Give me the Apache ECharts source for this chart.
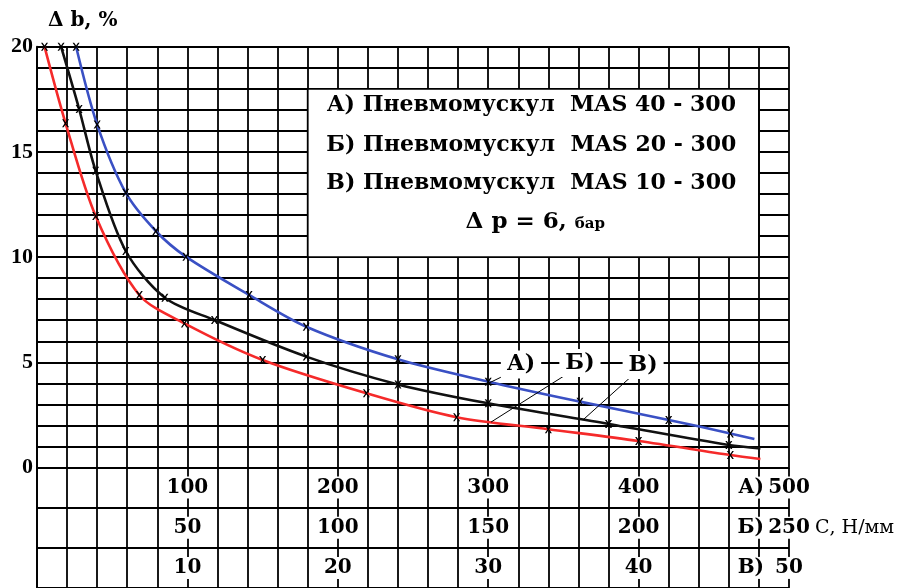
<!DOCTYPE html>
<html><head><meta charset="utf-8">
<script src="https://cdn.jsdelivr.net/npm/echarts@6/dist/echarts.min.js"></script>
<style>html,body{margin:0;padding:0;background:#fff}#c{width:914px;height:588px}</style>
</head><body><div id="c"></div>
<script>
// ---- data ----
const blueX  = [26, 40, 59, 79, 99, 141, 179, 240, 300, 361, 420, 461, 477];
const blueY  = [20, 16.3, 13.06, 11.24, 10.02, 8.2, 6.69, 5.14, 4.08, 3.13, 2.26, 1.62, 1.35];
const blackX = [16, 28, 39, 59, 85, 118, 179, 240, 300, 380, 460, 481];
const blackY = [20, 17.04, 14.1, 10.29, 8.07, 7.01, 5.27, 3.95, 3.05, 2.07, 1.07, 0.91];
const redX   = [5, 19, 39, 68, 98, 150, 219, 279, 340, 400, 461, 481];
const redY   = [20, 16.36, 11.95, 8.2, 6.85, 5.11, 3.53, 2.39, 1.82, 1.26, 0.59, 0.4];
const yLabelStep = 5;
const tickPos = [100, 200, 300, 400, 500];
const scaleA = [100, 200, 300, 400, 500];
const scaleB = [50, 100, 150, 200, 250];
const scaleC = [10, 20, 30, 40, 50];
const rowPrefix = ['А)', 'Б)', 'В)'];
const unitText = 'С, Н/мм';
const legendLines = ['А) Пневмомускул  MAS 40 - 300', 'Б) Пневмомускул  MAS 20 - 300', 'В) Пневмомускул  MAS 10 - 300'];
const yTitle = 'Δ b, %';
const curveTags = ['А)', 'Б)', 'В)'];

const SERIF = 'DejaVu Serif';
const TIMES = 'Liberation Serif';
const GC = '#000';
const GW = 1.8;
const XSYM = 'path://M0,0L2.2,0L5,3.6L7.8,0L10,0L6.2,5L10,10L7.8,10L5,6.4L2.2,10L0,10L3.8,5Z';

function pts(xs, ys) {
  return xs.map((x, i) => ({ value: [x, ys[i]], symbol: i === xs.length - 1 ? 'none' : XSYM }));
}
function curve(name, xs, ys, color) {
  return {
    name, type: 'line', xAxisIndex: 0, yAxisIndex: 0, data: pts(xs, ys),
    smooth: 0.3, symbolSize: [7, 8],
    lineStyle: { color, width: 2.6 }, itemStyle: { color: '#000' }, z: 5, animation: false
  };
}
function rowLabels(vals, row) {
  return vals.map((v, i) => [tickPos[i], row + 0.5, v]);
}

const chart = echarts.init(document.getElementById('c'), null, { renderer: 'canvas' });
const splitStyle = { show: true, lineStyle: { color: GC, width: GW } };
const option = {
  animation: false,
  backgroundColor: '#fff',
  grid: [
    { left: 37, top: 46.7, width: 752, height: 420.8, containLabel: false },
    { left: 37, top: 467.5, width: 752, height: 121.5, containLabel: false }
  ],
  xAxis: [
    { gridIndex: 0, type: 'value', min: 0, max: 500, interval: 20,
      axisLine: { show: true, lineStyle: { color: GC, width: GW } }, axisTick: { show: false },
      axisLabel: { show: false }, splitLine: splitStyle },
    { gridIndex: 1, type: 'value', min: 0, max: 500, interval: 20,
      axisLine: { show: false }, axisTick: { show: false },
      axisLabel: { show: false }, splitLine: splitStyle }
  ],
  yAxis: [
    { gridIndex: 0, type: 'value', min: 0, max: 20, interval: 1,
      axisLine: { show: true, lineStyle: { color: GC, width: GW } }, axisTick: { show: false },
      axisLabel: { formatter: v => (v % yLabelStep === 0 ? String(v) : ''), fontFamily: TIMES,
        fontWeight: 'bold', fontSize: 22, color: '#000', margin: 4 },
      splitLine: splitStyle },
    { gridIndex: 1, type: 'value', min: 0, max: 3, interval: 1, inverse: true,
      axisLine: { show: true, lineStyle: { color: GC, width: GW } }, axisTick: { show: false },
      axisLabel: { show: false }, splitLine: splitStyle }
  ],
  series: [
    curve('А', blueX, blueY, '#3a50c4'),
    curve('В', blackX, blackY, '#111'),
    curve('Б', redX, redY, '#f52a2a'),
    {
      type: 'scatter', xAxisIndex: 1, yAxisIndex: 1, symbolSize: 1,
      itemStyle: { color: '#fff', opacity: 1 }, z: 6, silent: true,
      data: [].concat(rowLabels(scaleA, 0), rowLabels(scaleB, 1), rowLabels(scaleC, 2)),
      label: { show: true, position: 'inside', formatter: p => String(p.value[2]),
        fontFamily: SERIF, fontWeight: 'bold', fontSize: 20, color: '#000', opacity: 1,
        textBorderWidth: 0, backgroundColor: '#fff', padding: [1, 2] }
    }
  ]
};
chart.setOption(option);

const P = (x, y) => chart.convertToPixel({ gridIndex: 0 }, [x, y]);
const Q = (x, y) => chart.convertToPixel({ gridIndex: 1 }, [x, y]);
const g = [];
// title
g.push({ type: 'text', x: 48, y: 21, z: 20, style: { text: yTitle, font: 'bold 20px "DejaVu Serif"', fill: '#000', textVerticalAlign: 'middle' } });
// legend box
const b1 = P(180, 18), b2 = P(480, 10);
g.push({ type: 'rect', z: 10, shape: { x: b1[0], y: b1[1], width: b2[0] - b1[0], height: b2[1] - b1[1] },
  style: { fill: '#fff', stroke: GC, lineWidth: GW } });
const cx = (b1[0] + b2[0]) / 2;
const lineY = [17.2, 15.3, 13.5, 11.65];
legendLines.forEach((t, i) => {
  g.push({ type: 'text', z: 11, x: cx - 2, y: P(0, lineY[i])[1],
    style: { text: t, font: 'bold 22px "DejaVu Serif"', fill: '#000', textAlign: 'center', textVerticalAlign: 'middle' } });
});
g.push({ type: 'text', z: 11, x: cx + 2, y: P(0, lineY[3])[1],
  style: { text: '{a|Δ p = 6, }{b|бар}', textAlign: 'center', textVerticalAlign: 'middle',
    rich: { a: { font: 'bold 23px "DejaVu Serif"', fill: '#000', verticalAlign: 'bottom' },
            b: { font: 'bold 15px "DejaVu Serif"', fill: '#000', verticalAlign: 'bottom', padding: [0, 0, 2, 0] } } } });
// curve tags with leader lines
const tagPos = [[321.8, 4.9], [361, 4.97], [403, 4.87]];
const leaders = [[[319.4, 4.67], [300.1, 4.0]], [[355.7, 4.59], [301.9, 2.16]], [[396.3, 4.4], [363, 2.26]]];
leaders.forEach(l => {
  const a = P(l[0][0], l[0][1]), c = P(l[1][0], l[1][1]);
  g.push({ type: 'line', z: 12, shape: { x1: a[0], y1: a[1], x2: c[0], y2: c[1] }, style: { stroke: '#000', lineWidth: 1 } });
});
curveTags.forEach((t, i) => {
  const p = P(tagPos[i][0], tagPos[i][1]);
  g.push({ type: 'text', z: 13, x: p[0], y: p[1],
    style: { text: t, font: 'bold 22px "DejaVu Serif"', fill: '#000', textAlign: 'center', textVerticalAlign: 'middle',
      backgroundColor: '#fff', padding: [3, 6] } });
});
// row prefixes and unit
rowPrefix.forEach((t, i) => {
  const p = Q(500, i + 0.5);
  g.push({ type: 'text', z: 13, x: p[0] - 24, y: p[1],
    style: { text: t, font: 'bold 20px "DejaVu Serif"', fill: '#000', textAlign: 'right', textVerticalAlign: 'middle',
      backgroundColor: '#fff', padding: [1, 1] } });
});
const pu = Q(500, 1.5);
g.push({ type: 'text', z: 13, x: pu[0] + 26, y: pu[1],
  style: { text: unitText, font: '19px "DejaVu Serif"', fill: '#000', textAlign: 'left', textVerticalAlign: 'middle' } });
chart.setOption({ graphic: g });
</script></body></html>
